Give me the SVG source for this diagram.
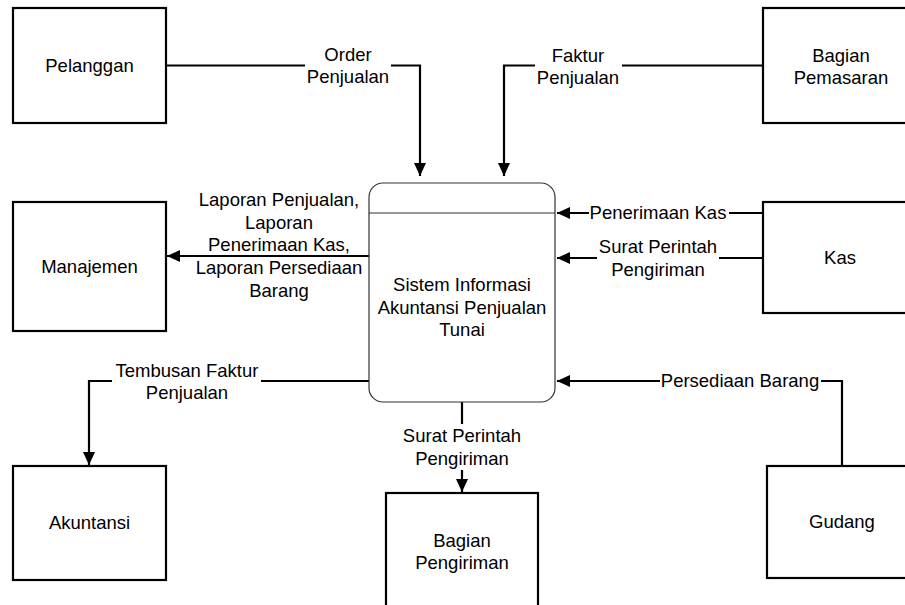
<svg xmlns="http://www.w3.org/2000/svg" width="905" height="605" viewBox="0 0 905 605">
<style>
  .box { fill: #ffffff; stroke: #000000; stroke-width: 2.2; }
  .proc { fill: #ffffff; stroke: #333333; stroke-width: 1.2; }
  .t { font-family: "Liberation Sans", Arial, sans-serif; font-size: 18.5px; fill: #000000; text-anchor: middle; }
  .c { fill: none; stroke: #000000; stroke-width: 2.2; }
  .bg { fill: #ffffff; stroke: none; }
</style>
<defs>
  <marker id="arr" markerUnits="userSpaceOnUse" markerWidth="14" markerHeight="14" viewBox="0 0 14 14" refX="13" refY="7" orient="auto">
    <path d="M0,1 L13,7 L0,13 Z" fill="#000000"/>
  </marker>
</defs>
<rect width="905" height="605" fill="#ffffff"/>

<g id="connectors">
  <path class="c" d="M166,65.5 H420 V176" marker-end="url(#arr)"/>
  <path class="c" d="M763,65.5 H504 V176" marker-end="url(#arr)"/>
  <path class="c" d="M369,256 H167" marker-end="url(#arr)"/>
  <path class="c" d="M763,213 H557" marker-end="url(#arr)"/>
  <path class="c" d="M763,258 H557" marker-end="url(#arr)"/>
  <path class="c" d="M842,466 V381 H557" marker-end="url(#arr)"/>
  <path class="c" d="M369,381 H89 V465" marker-end="url(#arr)"/>
  <path class="c" d="M462,402 V492" marker-end="url(#arr)"/>

  <rect class="bg" x="305" y="46" width="86" height="42"/>
  <text class="t" x="348" y="61">Order</text>
  <text class="t" x="348" y="83">Penjualan</text>

  <rect class="bg" x="535" y="46" width="87" height="42"/>
  <text class="t" x="578" y="61.5">Faktur</text>
  <text class="t" x="578" y="84">Penjualan</text>

  <text class="t" x="279" y="206">Laporan Penjualan,</text>
  <text class="t" x="279" y="228.5">Laporan</text>
  <text class="t" x="279" y="251">Penerimaan Kas,</text>
  <text class="t" x="279" y="274">Laporan Persediaan</text>
  <text class="t" x="279" y="296.5">Barang</text>

  <rect class="bg" x="589" y="203" width="140" height="20"/>
  <text class="t" x="658" y="219">Penerimaan Kas</text>

  <rect class="bg" x="597" y="238" width="122" height="42"/>
  <text class="t" x="658" y="253">Surat Perintah</text>
  <text class="t" x="658" y="275.5">Pengiriman</text>

  <rect class="bg" x="660" y="371" width="161" height="20"/>
  <text class="t" x="740" y="386.5">Persediaan Barang</text>

  <rect class="bg" x="112" y="362" width="149" height="42"/>
  <text class="t" x="187" y="377">Tembusan Faktur</text>
  <text class="t" x="187" y="399">Penjualan</text>

  <rect class="bg" x="400" y="424" width="124" height="46"/>
  <text class="t" x="462" y="441.5">Surat Perintah</text>
  <text class="t" x="462" y="464.5">Pengiriman</text>
</g>

<g id="proses">
  <rect class="proc" x="369" y="183" width="186" height="219" rx="14" ry="14"/>
  <line x1="369" y1="213" x2="555" y2="213" stroke="#333333" stroke-width="1.2"/>
  <text class="t" x="462" y="291">Sistem Informasi</text>
  <text class="t" x="462" y="313.5">Akuntansi Penjualan</text>
  <text class="t" x="462" y="336">Tunai</text>
</g>

<g id="pelanggan">
  <rect class="box" x="13" y="8" width="153" height="115"/>
  <text class="t" x="89.5" y="72">Pelanggan</text>
</g>

<g id="bagian-pemasaran">
  <rect class="box" x="763" y="8" width="157" height="115"/>
  <text class="t" x="841" y="62">Bagian</text>
  <text class="t" x="841" y="84">Pemasaran</text>
</g>

<g id="manajemen">
  <rect class="box" x="13" y="202" width="153" height="129"/>
  <text class="t" x="89.5" y="273">Manajemen</text>
</g>

<g id="kas">
  <rect class="box" x="763" y="202" width="157" height="111"/>
  <text class="t" x="840" y="264">Kas</text>
</g>

<g id="akuntansi">
  <rect class="box" x="13" y="466" width="153" height="114"/>
  <text class="t" x="89.5" y="529">Akuntansi</text>
</g>

<g id="bagian-pengiriman">
  <rect class="box" x="386" y="493" width="152" height="130"/>
  <text class="t" x="462" y="546.5">Bagian</text>
  <text class="t" x="462" y="569">Pengiriman</text>
</g>

<g id="gudang">
  <rect class="box" x="767" y="466" width="153" height="112"/>
  <text class="t" x="842" y="528">Gudang</text>
</g>
</svg>
